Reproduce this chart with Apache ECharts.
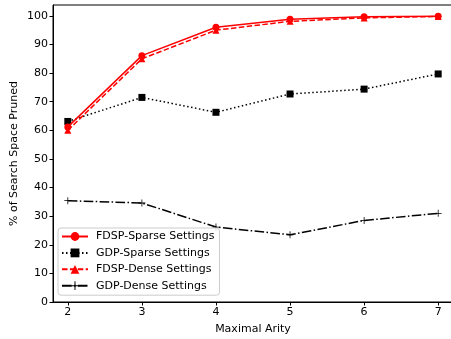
<!DOCTYPE html>
<html><head><meta charset="utf-8">
<script src="https://cdn.jsdelivr.net/npm/echarts@6/dist/echarts.min.js"></script>
<style>html,body{margin:0;padding:0;background:#fff}#c{width:451px;height:339px}</style>
</head><body><div id="c"></div>
<script>
var arity = [2, 3, 4, 5, 6, 7];
var fdspSparse = [61.2, 86.1, 96.0, 98.8, 99.7, 99.9];
var gdpSparse = [63.1, 71.5, 66.3, 72.7, 74.4, 79.7];
var fdspDense = [60.0, 85.0, 95.0, 98.1, 99.3, 99.8];
var gdpDense = [35.4, 34.6, 26.2, 23.5, 28.5, 31.0];
var yTicks = [0, 10, 20, 30, 40, 50, 60, 70, 80, 90, 100];
var xTicks = [2, 3, 4, 5, 6, 7];

function pts(ys) { return arity.map(function (x, i) { return [x, ys[i]]; }); }
var plus = 'path://M-0.11,-1H0.11V-0.11H1V0.11H0.11V1H-0.11V0.11H-1V-0.11H-0.11Z';
var font = 'DejaVu Sans';
var fs = 11;
var chart = echarts.init(document.getElementById('c'), null, {renderer: 'canvas'});
chart.setOption({
  animation: false,
  backgroundColor: '#fff',
  textStyle: {fontFamily: font},
  grid: {left: 53, right: -2, top: 5, bottom: 37, containLabel: false, outerBoundsMode: 'none',
         show: true, borderColor: '#000', borderWidth: 1, backgroundColor: 'transparent'},
  xAxis: {
    type: 'value', min: 1.8, max: 7.2,
    name: 'Maximal Arity', nameLocation: 'middle', nameGap: 22, nameMoveOverlap: false,
    nameTextStyle: {color: '#000', fontSize: fs, fontFamily: font},
    axisLine: {show: true, lineStyle: {color: '#000', width: 1}},
    axisTick: {show: true, length: 3.5, lineStyle: {color: '#000'}, customValues: xTicks},
    axisLabel: {color: '#000', fontSize: fs, fontFamily: font, margin: 5, customValues: xTicks},
    splitLine: {show: false}
  },
  yAxis: {
    type: 'value', min: 0, max: 103.8,
    name: '% of Search Space Pruned', nameLocation: 'middle', nameGap: 33, nameRotate: 90, nameMoveOverlap: false,
    nameTextStyle: {color: '#000', fontSize: fs, fontFamily: font},
    axisLine: {show: true, lineStyle: {color: '#000', width: 1}},
    axisTick: {show: true, length: 3.5, lineStyle: {color: '#000'}, customValues: yTicks},
    axisLabel: {color: '#000', fontSize: fs, fontFamily: font, margin: 5, customValues: yTicks},
    splitLine: {show: false}
  },
  legend: {
    orient: 'vertical', left: 58, top: 228,
    backgroundColor: 'rgba(255,255,255,0.8)', borderColor: '#ccc', borderWidth: 1, borderRadius: 3,
    padding: [3, 5, 4, 3], itemGap: 5.4, itemWidth: 26, itemHeight: 11,
    textStyle: {color: '#000', fontSize: fs, fontFamily: font, padding: [0, 0, 0, 3]},
    data: ['FDSP-Sparse Settings', 'GDP-Sparse Settings', 'FDSP-Dense Settings', 'GDP-Dense Settings']
  },
  series: [
    {name: 'FDSP-Sparse Settings', type: 'line', data: pts(fdspSparse), symbol: 'circle', symbolSize: 7,
     itemStyle: {color: '#ff0000'}, lineStyle: {color: '#ff0000', width: 1.5, type: 'solid'}, z: 4},
    {name: 'GDP-Sparse Settings', type: 'line', data: pts(gdpSparse), symbol: 'rect', symbolSize: 7,
     itemStyle: {color: '#000'}, lineStyle: {color: '#000', width: 1.5, type: [1.5, 2.5]}, z: 3},
    {name: 'FDSP-Dense Settings', type: 'line', data: pts(fdspDense), symbol: 'triangle', symbolSize: 7,
     itemStyle: {color: '#ff0000'}, lineStyle: {color: '#ff0000', width: 1.5, type: [5.5, 2.4]}, z: 4},
    {name: 'GDP-Dense Settings', type: 'line', data: pts(gdpDense), symbol: plus, symbolSize: 7,
     itemStyle: {color: '#000'}, lineStyle: {color: '#000', width: 1.5, type: [9.6, 2.4, 1.5, 2.4]}, z: 3}
  ]
});
</script></body></html>
